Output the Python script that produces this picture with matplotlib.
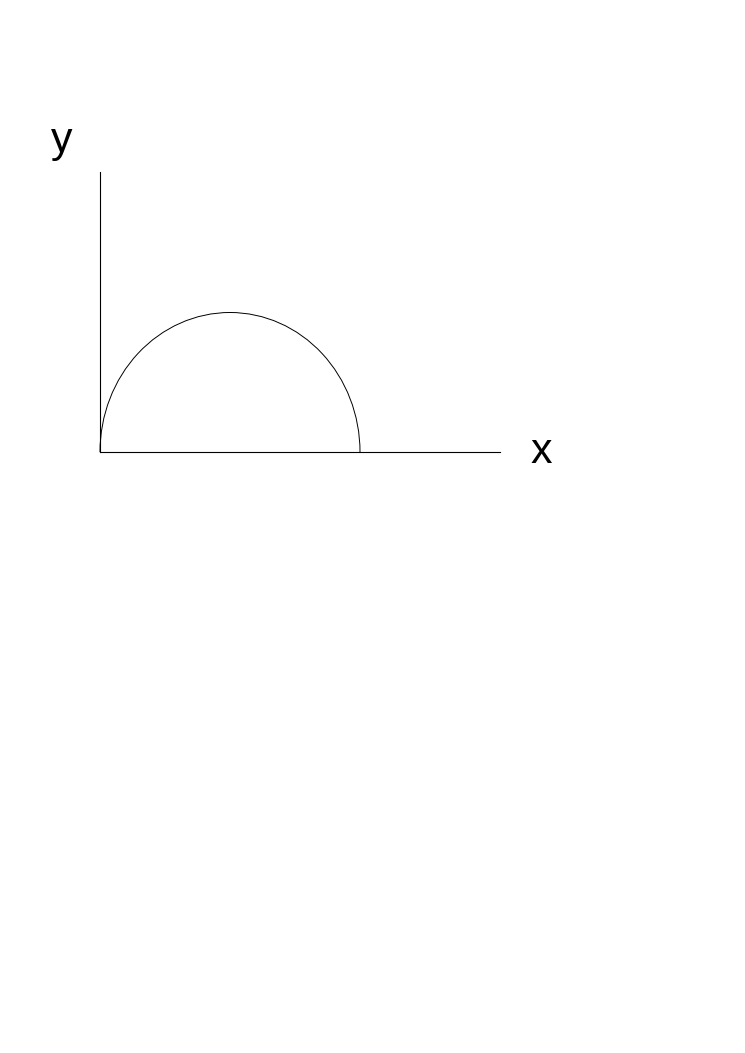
import matplotlib
matplotlib.use("Agg")
import matplotlib.pyplot as plt
from matplotlib.patches import Arc

# Figure size in pixels
W, H = 745, 1053

# Axis lengths (data units = pixels)
x_len = 400
y_len = 280

# Semi-ellipse: center on the x axis, full width and height
arc_center = (130, 0)
arc_width = 260
arc_height = 279

# Axis labels
x_label = "x"
y_label = "y"

fig = plt.figure(figsize=(W / 100, H / 100), dpi=100)
fig.patch.set_facecolor("white")

# Axes placed so origin sits at pixel (100, 452)
ax = fig.add_axes([100 / W, (H - 452) / H, x_len / W, y_len / H])
ax.set_xlim(0, x_len)
ax.set_ylim(0, y_len)
ax.spines["top"].set_visible(False)
ax.spines["right"].set_visible(False)
for side in ["left", "bottom"]:
    ax.spines[side].set_linewidth(0.8)
    ax.spines[side].set_color("black")
ax.set_xticks([])
ax.set_yticks([])
ax.patch.set_alpha(0)

# Upper half of the ellipse
arc = Arc(arc_center, arc_width, arc_height, theta1=0, theta2=180,
          color="black", linewidth=0.7, clip_on=False)
ax.add_patch(arc)

# Axis labels at the ends of the axes
fig.text(541 / W, (H - 463) / H, x_label, fontsize=31, ha="center",
         va="baseline", family="Liberation Sans")
fig.text(62 / W, (H - 152) / H, y_label, fontsize=31, ha="center",
         va="baseline", family="Liberation Sans")

fig.savefig("out.png", dpi=100)
